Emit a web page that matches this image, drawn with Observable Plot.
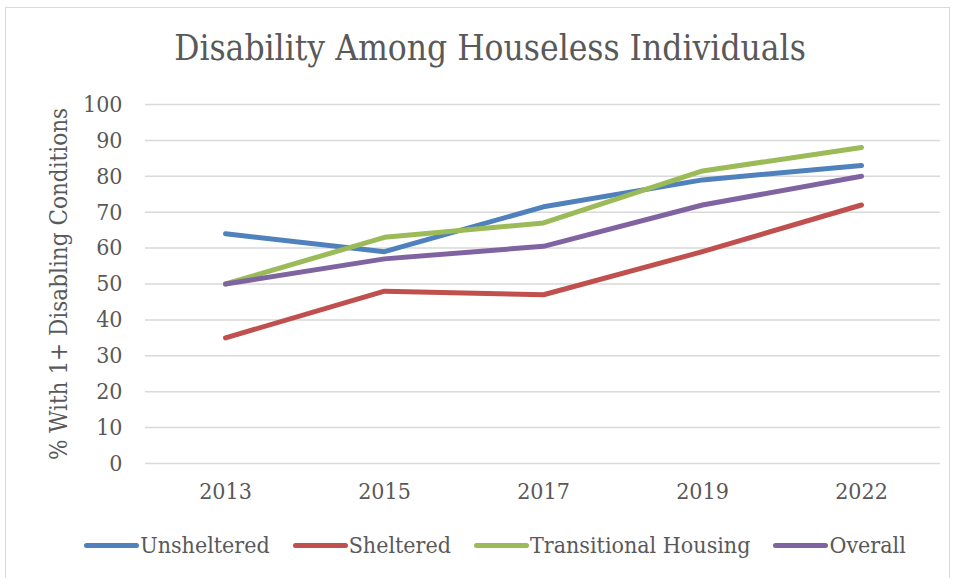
<!DOCTYPE html>
<html>
<head>
<meta charset="utf-8">
<script src="https://cdn.jsdelivr.net/npm/d3@7"></script>
<script src="https://cdn.jsdelivr.net/npm/@observablehq/plot@0.6"></script>
<style>
  html, body { margin: 0; padding: 0; background: #fff; }
  #wrap { position: relative; width: 956px; height: 578px; overflow: hidden; font-family: "DejaVu Serif Condensed", "DejaVu Serif", serif; color: #595959; }
  #frame { position: absolute; left: 5px; top: 7px; width: 945px; height: 575px; border: 1px solid #d9d9d9; box-sizing: border-box; }
  #title { position: absolute; left: 0; width: 980px; top: 27px; text-align: center; font-size: 35px; line-height: 42px; }
  #chart { position: absolute; left: 0; top: 0; }
  #legend { position: absolute; left: 0; width: 990px; top: 531px; display: flex; justify-content: center; gap: 23px; font-size: 23px; line-height: 28px; }
  #legend .item { display: flex; align-items: center; }
  #legend .sw { display: inline-block; width: 55px; height: 5px; border-radius: 3px; margin-right: 1px; }
</style>
</head>
<body>
<div id="wrap">
  <div id="frame"></div>
  <div id="title">Disability Among Houseless Individuals</div>
  <div id="chart"></div>
  <div id="legend"></div>
</div>
<script>
const years = ["2013", "2015", "2017", "2019", "2022"];
const seriesNames = ["Unsheltered", "Sheltered", "Transitional Housing", "Overall"];
const unsheltered = [64, 59, 71.5, 79, 83];
const sheltered = [35, 48, 47, 59, 72];
const transitional = [50, 63, 67, 81.5, 88];
const overall = [50, 57, 60.5, 72, 80];
const colors = ["#4F81BD", "#C0504D", "#9BBB59", "#8064A2"];
const yTicks = [0, 10, 20, 30, 40, 50, 60, 70, 80, 90, 100];

const allValues = [unsheltered, sheltered, transitional, overall];
const data = [];
seriesNames.forEach((s, i) => {
  years.forEach((y, j) => data.push({series: s, year: y, value: allValues[i][j]}));
});

const plot = Plot.plot({
  width: 956,
  height: 520,
  marginTop: 104,
  marginBottom: 57,
  marginLeft: 145,
  marginRight: 16,
  style: { fontFamily: '"DejaVu Serif Condensed", "DejaVu Serif", serif', fontSize: "23px", color: "#595959", background: "transparent" },
  x: { type: "point", domain: years, padding: 0.5 },
  y: { domain: [0, 100] },
  color: { domain: seriesNames, range: colors },
  marks: [
    Plot.ruleY(yTicks, { stroke: "#d9d9d9", strokeWidth: 1.5 }),
    Plot.axisY({ ticks: yTicks, tickSize: 0, tickPadding: 23, label: null, fontSize: 23, fill: "#595959" }),
    Plot.axisY({ ticks: [], tickSize: 0, label: "% With 1+ Disabling Conditions", labelAnchor: "center", labelArrow: "none", labelOffset: 96, fontSize: 24, fill: "#595959" }),
    Plot.axisX({ tickSize: 0, tickPadding: 19, label: null, fontSize: 23, fill: "#595959" }),
    Plot.line(data, { x: "year", y: "value", z: "series", stroke: "series", strokeWidth: 5, strokeLinecap: "round", strokeLinejoin: "round" })
  ]
});
document.getElementById("chart").appendChild(plot);

const legend = document.getElementById("legend");
seriesNames.forEach((s, i) => {
  const item = document.createElement("div");
  item.className = "item";
  const sw = document.createElement("span");
  sw.className = "sw";
  sw.style.background = colors[i];
  const t = document.createElement("span");
  t.textContent = s;
  item.appendChild(sw);
  item.appendChild(t);
  legend.appendChild(item);
});
</script>
</body>
</html>
